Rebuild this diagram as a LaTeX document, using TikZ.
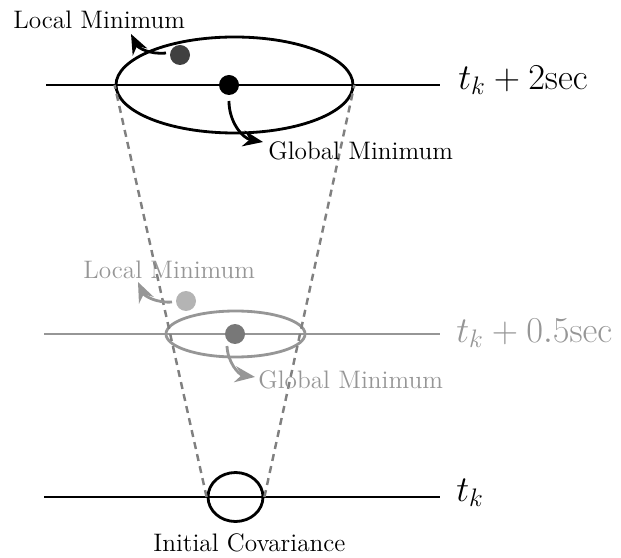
\documentclass[tikz,border=0pt]{standalone}
\usetikzlibrary{arrows.meta,shapes.geometric}
\definecolor{midgray}{RGB}{150,150,150}
\definecolor{darkdot}{RGB}{64,64,64}
\definecolor{middot}{RGB}{120,120,120}
\definecolor{lightdot}{RGB}{180,180,180}
\tikzset{
  timeline/.style={line width=1.6pt},
  covell/.style={draw, ellipse, line width=1.6pt, inner sep=0pt},
  minpt/.style={circle, inner sep=0pt, minimum size=0.4cm},
  minarrow/.style={-{Stealth[length=4mm,width=3.2mm]}, line width=1.6pt},
  cone/.style={line width=1.4pt, dash pattern=on 4pt off 3pt, color=gray},
  lbl/.style={font=\Large, inner sep=0pt},
  timelbl/.style={font=\huge, anchor=west, inner sep=0pt}
}
\begin{document}
\begin{tikzpicture}
  \useasboundingbox (0,0) rectangle (12.42,11.14);
  % Time lines
  \coordinate (l2a) at (0.92,9.44);  \coordinate (l2b) at (8.80,9.44);
  \coordinate (l1a) at (0.88,4.46);  \coordinate (l1b) at (8.80,4.46);
  \coordinate (l0a) at (0.88,1.20);  \coordinate (l0b) at (8.80,1.20);
  \draw[timeline] (l2a) -- (l2b);
  \draw[timeline, midgray] (l1a) -- (l1b);
  \draw[timeline] (l0a) -- (l0b);
  \node[timelbl] (t2) at (9.16,9.54) {$t_k + 2\mathrm{sec}$};
  \node[timelbl, midgray] (t1) at (9.12,4.48) {$t_k + 0.5\mathrm{sec}$};
  \node[timelbl] (t0) at (9.12,1.28) {$t_k$};
  % Covariances
  \node[covell, minimum width=4.74cm, minimum height=1.92cm] (cov2) at (4.69,9.44) {};
  \node[covell, midgray, minimum width=2.78cm, minimum height=0.92cm] (cov1) at (4.71,4.46) {};
  \node[covell, minimum width=1.10cm, minimum height=0.98cm] (cov0) at (4.71,1.20) {};
  \node[lbl, anchor=west] (init) at (3.06,0.28) {Initial Covariance};
  % Growth of the covariance
  \draw[cone] (cov0.west) -- (cov2.west);
  \draw[cone] (cov0.east) -- (cov2.east);
  % Minima at t_k + 2sec
  \node[minpt, fill=black] (gmin2) at (4.58,9.44) {};
  \node[minpt, fill=darkdot] (lmin2) at (3.60,10.04) {};
  \node[lbl, anchor=west] (ltxt2) at (0.26,10.74) {Local Minimum};
  \node[lbl, anchor=west] (gtxt2) at (5.36,8.12) {Global Minimum};
  \coordinate (la2) at (3.32,10.08);
  \coordinate (lt2) at (2.62,10.46);
  \coordinate (ga2) at (4.58,9.12);
  \coordinate (gt2) at (5.26,8.30);
  \draw[minarrow] (la2) to[bend left=35] (lt2);
  \draw[minarrow] (ga2) to[bend right=40] (gt2);
  % Minima at t_k + 0.5sec
  \node[minpt, fill=middot] (gmin1) at (4.70,4.46) {};
  \node[minpt, fill=lightdot] (lmin1) at (3.72,5.12) {};
  \node[lbl, midgray, anchor=west] (ltxt1) at (1.66,5.74) {Local Minimum};
  \node[lbl, midgray, anchor=west] (gtxt1) at (5.16,3.54) {Global Minimum};
  \coordinate (la1) at (3.44,5.10);
  \coordinate (lt1) at (2.76,5.50);
  \coordinate (ga1) at (4.54,4.22);
  \coordinate (gt1) at (5.10,3.60);
  \draw[minarrow, midgray] (la1) to[bend left=35] (lt1);
  \draw[minarrow, midgray] (ga1) to[bend right=40] (gt1);
\end{tikzpicture}
\end{document}
